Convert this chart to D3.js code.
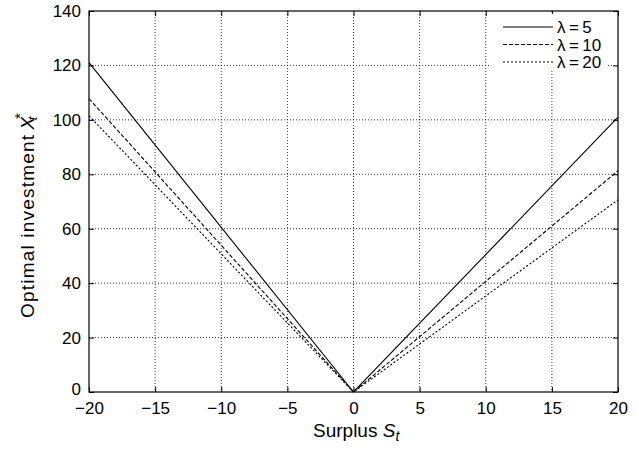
<!DOCTYPE html>
<html><head><meta charset="utf-8">
<script src="https://d3js.org/d3.v7.min.js"></script>
<style>body{margin:0;background:#fff}svg{display:block}text{font-family:"Liberation Sans",Arial,sans-serif;fill:#000}</style>
</head><body><svg id="c" width="639" height="450"></svg>
<script>
const surplus = [-20, 0, 20];
const lambdaLabels = ["λ\u2009=\u20095", "λ\u2009=\u200910", "λ\u2009=\u200920"];
const lambda5 = [121, 0, 101];
const lambda10 = [107.8, 0, 81.3];
const lambda20 = [101.5, 0, 70.6];
const xTicks = [-20, -15, -10, -5, 0, 5, 10, 15, 20];
const yTicks = [0, 20, 40, 60, 80, 100, 120, 140];
const dashes = [null, "4,2", "2,2"];

const svg = d3.select("#c");
const L = 89, R = 618, T = 11, B = 392;
const x = d3.scaleLinear().domain([-20, 20]).range([L, R]);
const y = d3.scaleLinear().domain([0, 140]).range([B, T]);

// gridlines
const g = svg.append("g");
g.selectAll(".vg").data(xTicks.slice(1, -1)).enter().append("line")
  .attr("x1", d => x(d)).attr("x2", d => x(d)).attr("y1", T).attr("y2", B)
  .attr("stroke", "#000").attr("stroke-width", 0.8).attr("stroke-dasharray", "1,2");
g.selectAll(".hg").data(yTicks.slice(1, -1)).enter().append("line")
  .attr("y1", d => y(d)).attr("y2", d => y(d)).attr("x1", L).attr("x2", R)
  .attr("stroke", "#000").attr("stroke-width", 0.8).attr("stroke-dasharray", "1,2");

// axes
const fmt = d => d < 0 ? "\u2212" + Math.abs(d) : String(d);
const xAxis = svg.append("g").attr("transform", `translate(0,${B})`)
  .call(d3.axisBottom(x).tickValues(xTicks).tickSize(-5).tickPadding(10).tickFormat(fmt));
const xAxisTop = svg.append("g").attr("transform", `translate(0,${T})`)
  .call(d3.axisTop(x).tickValues(xTicks).tickSize(-5).tickFormat(""));
const yAxis = svg.append("g").attr("transform", `translate(${L},0)`)
  .call(d3.axisLeft(y).tickValues(yTicks).tickSize(-5).tickPadding(8));
const yAxisR = svg.append("g").attr("transform", `translate(${R},0)`)
  .call(d3.axisRight(y).tickValues(yTicks).tickSize(-5).tickFormat(""));
[xAxis, xAxisTop, yAxis, yAxisR].forEach(a => {
  a.select(".domain").remove();
  a.selectAll("line").attr("stroke", "#000");
  a.selectAll("text").attr("font-size", 17).attr("font-family", "Liberation Sans, Arial, sans-serif");
});
yAxis.selectAll(".tick text").filter(d => d === 0).attr("y", -3);
svg.append("rect").attr("x", L).attr("y", T).attr("width", R - L).attr("height", B - T)
  .attr("fill", "none").attr("stroke", "#000").attr("stroke-width", 1.2);

// lines
const series = [lambda5, lambda10, lambda20];
const line = d3.line().x((d, i) => x(surplus[i])).y(d => y(d));
series.forEach((s, i) => {
  svg.append("path").datum(s).attr("d", line).attr("fill", "none")
    .attr("stroke", "#000").attr("stroke-width", 1.1)
    .attr("stroke-dasharray", dashes[i]);
});

// legend
const lg = svg.append("g");
lg.append("rect").attr("x", 491).attr("y", 14).attr("width", 117).attr("height", 56).attr("fill", "#fff");
lambdaLabels.forEach((lab, i) => {
  const yy = 27 + i * 17.5;
  lg.append("line").attr("x1", 503).attr("x2", 553).attr("y1", yy).attr("y2", yy)
    .attr("stroke", "#000").attr("stroke-width", 1.1).attr("stroke-dasharray", dashes[i]);
  lg.append("text").attr("x", 557).attr("y", yy + 6).attr("font-size", 17).text(lab);
});

// axis labels
const xl = svg.append("text").attr("x", 313).attr("y", 437).attr("font-size", 19);
xl.append("tspan").text("Surplus ");
xl.append("tspan").attr("font-style", "italic").text("S");
xl.append("tspan").attr("font-style", "italic").attr("font-size", 14).attr("dy", 4).text("t");

const yl = svg.append("text").attr("transform", "translate(34,318) rotate(-90)")
  .attr("font-size", 19);
yl.append("tspan").attr("letter-spacing", "1.2px").text("Optimal investment");
yl.append("tspan").attr("dx", 4).attr("font-style", "italic").text("X");
yl.append("tspan").attr("font-size", 15).attr("dy", -9).attr("dx", -2).text("*");
yl.append("tspan").attr("font-style", "italic").attr("font-size", 13).attr("dy", 12).attr("dx", -7).text("t");
</script></body></html>
